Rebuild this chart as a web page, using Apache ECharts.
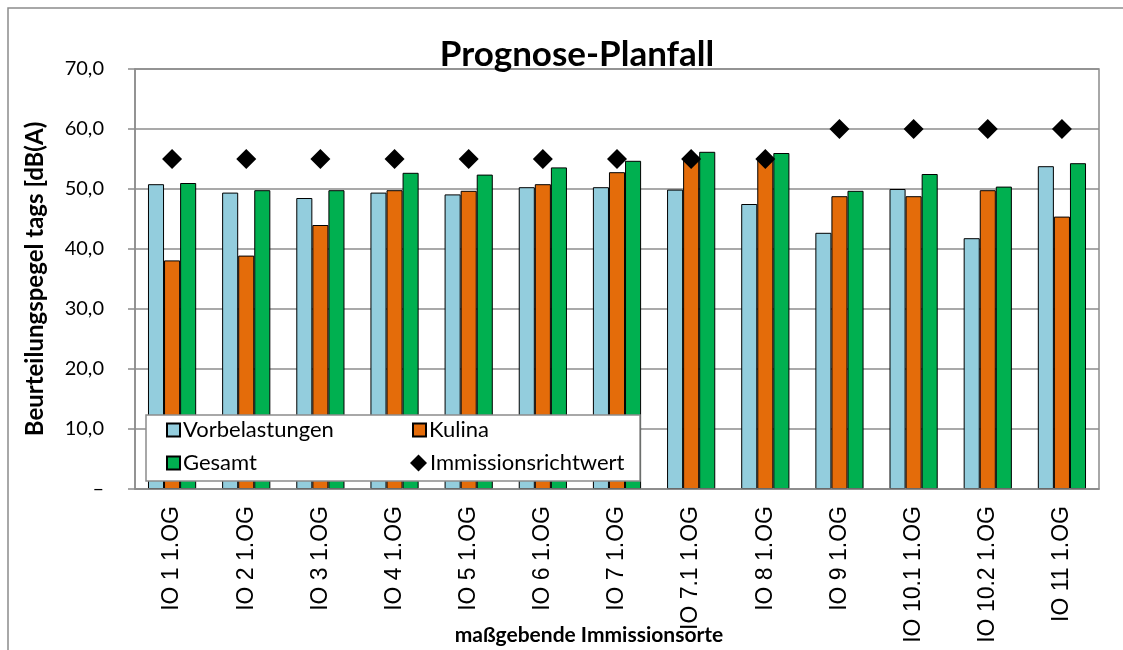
<!DOCTYPE html>
<html>
<head>
<meta charset="utf-8">
<script src="https://cdn.jsdelivr.net/npm/echarts@6/dist/echarts.min.js"></script>
<style>
  html, body { margin: 0; padding: 0; background: #fff; }
  #chart { width: 1123px; height: 650px; }
</style>
</head>
<body>
<div id="chart"></div>
<script>
// Immission points (receivers)
const categories = ['IO 1 1.OG', 'IO 2 1.OG', 'IO 3 1.OG', 'IO 4 1.OG', 'IO 5 1.OG', 'IO 6 1.OG',
  'IO 7 1.OG', 'IO 7.1 1.OG', 'IO 8 1.OG', 'IO 9 1.OG', 'IO 10.1 1.OG', 'IO 10.2 1.OG', 'IO 11 1.OG'];

// Rating levels in dB(A)
const vorbelastungen = [50.8, 49.4, 48.5, 49.4, 49.1, 50.3, 50.3, 49.9, 47.5, 42.7, 50.0, 41.8, 53.8];
const kulina         = [38.1, 38.9, 44.0, 49.8, 49.7, 50.8, 52.8, 55.1, 55.3, 48.8, 48.8, 49.8, 45.4];
const gesamt         = [51.0, 49.8, 49.8, 52.7, 52.4, 53.6, 54.7, 56.2, 56.0, 49.7, 52.5, 50.4, 54.3];
const richtwert      = [55, 55, 55, 55, 55, 55, 55, 55, 55, 60, 60, 60, 60];

const yTicks = { min: 0, max: 70, interval: 10 };

const labelFont = 'Lato, "Noto Sans", sans-serif';
const gridColor = '#8c8c8c';

const chart = echarts.init(document.getElementById('chart'), null, { renderer: 'canvas' });

const barStyle = (color) => ({ color: color, borderColor: '#000', borderWidth: 1 });

const legendBase = {
  orient: 'horizontal',
  itemWidth: 13,
  itemHeight: 13,
  itemGap: 0,
  padding: 0,
  z: 30,
  textStyle: { fontFamily: labelFont, fontSize: 22, color: '#000', padding: [0, 0, 0, -2] }
};

chart.setOption({
  animation: false,
  backgroundColor: '#fff',
  title: {
    text: 'Prognose-Planfall',
    left: 572,
    textAlign: 'center',
    top: 32,
    textStyle: { fontFamily: labelFont, fontSize: 35, fontWeight: 'bold', color: '#000' }
  },
  grid: {
    left: 135, right: 24, top: 69, bottom: 161,
    outerBoundsMode: 'none',
    containLabel: false,
    show: true, borderColor: gridColor, borderWidth: 1.5, backgroundColor: 'transparent'
  },
  xAxis: {
    type: 'category',
    data: categories,
    name: 'maßgebende Immissionsorte',
    nameLocation: 'middle',
    nameGap: 136,
    nameMoveOverlap: false,
    nameTextStyle: { fontFamily: labelFont, fontSize: 21, fontWeight: 'bold', color: '#000', padding: [0, 56, 0, 0] },
    axisLine: { lineStyle: { color: gridColor, width: 1.5 } },
    axisTick: { show: false },
    axisLabel: {
      rotate: 90,
      margin: 17,
      fontFamily: '"Liberation Sans", Arial, sans-serif',
      fontSize: 23,
      color: '#000',
      interval: 0
    },
    z: 5
  },
  yAxis: {
    type: 'value',
    min: yTicks.min,
    max: yTicks.max,
    interval: yTicks.interval,
    name: 'Beurteilungspegel tags [dB(A)',
    nameLocation: 'middle',
    nameGap: 88,
    nameMoveOverlap: false,
    nameTextStyle: { fontFamily: labelFont, fontSize: 24, fontWeight: 'bold', color: '#000' },
    axisLine: { show: true, lineStyle: { color: gridColor, width: 1.5 } },
    axisTick: { show: true, length: 7, lineStyle: { color: gridColor, width: 1.5 } },
    axisLabel: {
      margin: 31,
      fontFamily: labelFont,
      fontSize: 20,
      color: '#000',
      formatter: (v) => v === 0 ? '–' : v.toFixed(1).replace('.', ',')
    },
    splitLine: { lineStyle: { color: gridColor, width: 1.5 } }
  },
  legend: [
    Object.assign({}, legendBase, { data: [{ name: 'Vorbelastungen', icon: 'rect' }], left: 166, top: 419 }),
    Object.assign({}, legendBase, { data: [{ name: 'Kulina', icon: 'rect' }], left: 412, top: 419 }),
    Object.assign({}, legendBase, { data: [{ name: 'Gesamt', icon: 'rect' }], left: 166, top: 452 }),
    Object.assign({}, legendBase, { data: [{ name: 'Immissionsrichtwert', icon: 'diamond' }], left: 410, top: 452, itemWidth: 17, itemHeight: 17 })
  ],
  graphic: [
    {
      type: 'rect',
      shape: { x: 8, y: 8, width: 1140, height: 660 },
      style: { fill: 'none', stroke: '#8c8c8c', lineWidth: 1.5 },
      z: -10
    },
    {
      type: 'rect',
      shape: { x: 146, y: 415, width: 494, height: 66 },
      style: { fill: '#fff', stroke: '#8c8c8c', lineWidth: 1.5 },
      z: 20
    }
  ],
  series: [
    {
      name: 'Vorbelastungen', type: 'bar', data: vorbelastungen,
      itemStyle: barStyle('#93cddd'), barGap: '0%', barCategoryGap: '35%'
    },
    {
      name: 'Kulina', type: 'bar', data: kulina,
      itemStyle: barStyle('#e46c0a'), barGap: '0%', barCategoryGap: '35%'
    },
    {
      name: 'Gesamt', type: 'bar', data: gesamt,
      itemStyle: barStyle('#00b050'), barGap: '0%', barCategoryGap: '35%'
    },
    {
      name: 'Immissionsrichtwert', type: 'scatter', data: richtwert,
      symbol: 'diamond', symbolSize: 20,
      itemStyle: { color: '#000', opacity: 1 }, z: 4
    }
  ]
});
</script>
</body>
</html>
